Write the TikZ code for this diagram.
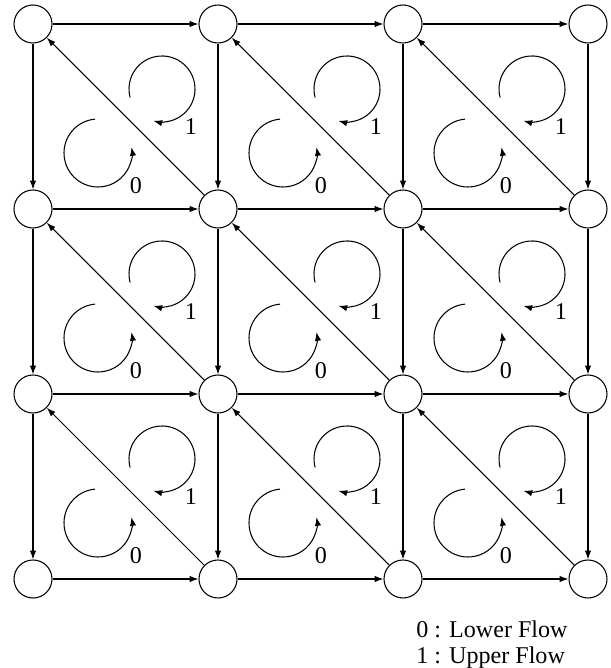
\documentclass[tikz,border=0pt]{standalone}
\usepackage{fontspec}
\setmainfont{Liberation Serif}
\usepackage{tikz}
\usetikzlibrary{
arrows.meta,
positioning,
calc
}

\begin{document}
\begin{tikzpicture}[
  >={Latex[length=5pt,width=3.6pt]},
  state/.style={circle, draw, line width=0.6pt, minimum size=0.76cm, inner sep=0pt},
  flow/.style={->, line width=0.6pt},
  turnarc/.style={->, line width=0.6pt},
  every node/.style={font=\fontsize{13.7}{15}\selectfont}
]
\useasboundingbox (0,0) rectangle (12.2,13.36);

%% Grid of states
\foreach \i in {0,...,3}
  \foreach \j in {0,...,3}
    \node[state] (n\i\j) at ({0.66+3.7*\i}, {12.88-3.7*\j}) {};

%% Horizontal and vertical flows
\foreach \i in {0,...,3}
  \foreach \j in {0,...,2} {
    \pgfmathtruncatemacro{\k}{\j+1}
    \draw[flow] (n\j\i) -- (n\k\i);
    \draw[flow] (n\i\j) -- (n\i\k);
  }

%% Diagonals, bottom right to top left
\foreach \i in {0,...,2}
  \foreach \j in {0,...,2} {
    \pgfmathtruncatemacro{\k}{\i+1}
    \pgfmathtruncatemacro{\l}{\j+1}
    \draw[flow] (n\k\l) -- (n\i\j);
  }

%% Circulation in each triangle
\foreach \i in {0,...,2}
  \foreach \j in {0,...,2} {
    % upper flow
    \draw[turnarc] ($(n\i\j)+(2.58,-1.30)+(195:0.66)$)
      arc[start angle=195, end angle=-105, radius=0.66];
    \node (up\i\j) at ($(n\i\j)+(3.16,-2.06)$) {1};
    % lower flow
    \draw[turnarc] ($(n\i\j)+(1.30,-2.58)+(95:0.68)$)
      arc[start angle=95, end angle=370, radius=0.68];
    \node (low\i\j) at ($(n\i\j)+(2.06,-3.24)$) {0};
  }

%% Legend
\node[align=left] (legend) at (9.84, 0.47)
  {0 : Lower Flow\\1 : Upper Flow};

\end{tikzpicture}
\end{document}
